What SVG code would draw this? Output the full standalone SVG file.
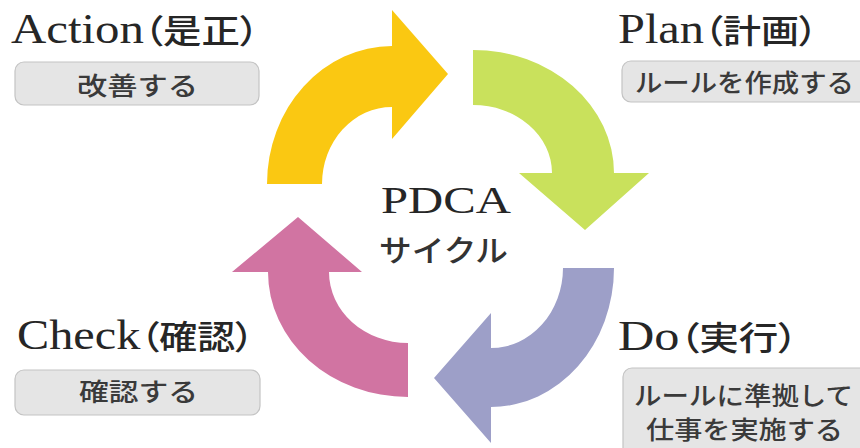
<svg xmlns="http://www.w3.org/2000/svg" width="860" height="448" viewBox="0 0 860 448">
<style>
.title{font-family:"Liberation Serif","Noto Sans CJK JP",serif;fill:#262626;font-size:42px;font-feature-settings:"palt";}
.title .jp{font-family:"Noto Sans CJK JP",sans-serif;font-size:33px;font-weight:500;}
.box{fill:#e5e5e5;stroke:#c3c3c3;stroke-width:1.2;}
.sub{font-family:"Noto Sans CJK JP",sans-serif;font-size:25px;font-weight:500;fill:#3a3a3a;}
.center1{font-family:"Liberation Serif",serif;font-size:38px;fill:#262626;}
.center2{font-family:"Noto Sans CJK JP",sans-serif;font-size:30px;font-weight:500;fill:#333;}
</style>
<rect width="860" height="448" fill="#ffffff"/>
<g id="connectors">
  <path id="arrow-action-plan" fill="#fac812" d="M267,184 A125,138 0 0 1 392,46 L392,10 L448,74 L392,139 L392,107 A70,77 0 0 0 322,184 Z"/>
  <path id="arrow-plan-do" fill="#c9e15c" d="M473,50 A141,123 0 0 1 614,173 L649,173 L585,230 L519,173 L552,173 A79,68 0 0 0 473,105 Z"/>
  <path id="arrow-do-check" fill="#9d9fc8" d="M614,268 A123,139 0 0 1 491,407 L491,443 L434,378 L491,313 L491,348 A72,80 0 0 0 563,268 Z"/>
  <path id="arrow-check-action" fill="#d174a2" d="M408,397 A140,125 0 0 1 268,272 L232,272 L298,217 L362,272 L329,272 A79,71 0 0 0 408,343 Z"/>
</g>
<g id="center">
  <text class="center1" x="381" y="213" textLength="130" lengthAdjust="spacingAndGlyphs">PDCA</text>
  <text class="center2" x="379" y="261" textLength="129" lengthAdjust="spacingAndGlyphs">サイクル</text>
</g>
<g id="action">
  <text class="title" x="11" y="43" textLength="248" lengthAdjust="spacingAndGlyphs">Action<tspan class="jp">（是正）</tspan></text>
  <rect class="box" x="15" y="62" width="244" height="43" rx="9"/>
  <text class="sub" x="77" y="95" textLength="121" lengthAdjust="spacingAndGlyphs">改善する</text>
</g>
<g id="plan">
  <text class="title" x="618" y="43" textLength="200" lengthAdjust="spacingAndGlyphs">Plan<tspan class="jp">（計画）</tspan></text>
  <rect class="box" x="622" y="61" width="250" height="41" rx="9"/>
  <text class="sub" x="635" y="92" textLength="219" lengthAdjust="spacingAndGlyphs">ルールを作成する</text>
</g>
<g id="check">
  <text class="title" x="17" y="349" textLength="237" lengthAdjust="spacingAndGlyphs">Check<tspan class="jp">（確認）</tspan></text>
  <rect class="box" x="15" y="370" width="245" height="45" rx="9"/>
  <text class="sub" x="79" y="401" textLength="119" lengthAdjust="spacingAndGlyphs">確認する</text>
</g>
<g id="do">
  <text class="title" x="618" y="350" textLength="180" lengthAdjust="spacingAndGlyphs">Do<tspan class="jp">（実行）</tspan></text>
  <rect class="box" x="623" y="368" width="250" height="95" rx="9"/>
  <text class="sub" x="634" y="405" textLength="219" lengthAdjust="spacingAndGlyphs">ルールに準拠して</text>
  <text class="sub" x="646" y="439" textLength="197" lengthAdjust="spacingAndGlyphs">仕事を実施する</text>
</g>
</svg>
